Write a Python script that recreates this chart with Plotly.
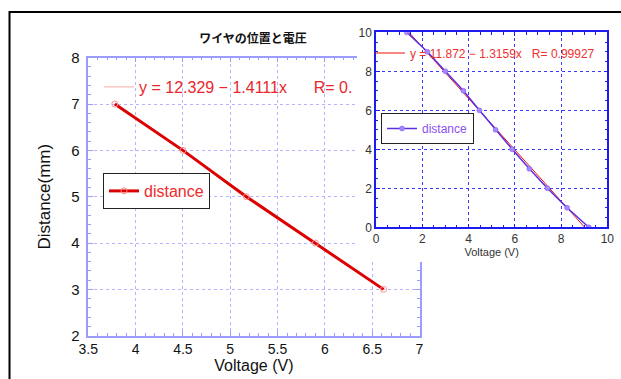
import plotly.graph_objects as go

# ---------------- data ----------------
main_voltage = [3.78, 4.50, 5.17, 5.90, 6.62]
main_distance = [7, 6, 5, 4, 3]
main_fit_intercept = 12.329
main_fit_slope = -1.4111
main_fit_label = "y = 12.329 − 1.4111x\u00a0\u00a0\u00a0\u00a0\u00a0\u00a0R= 0."

inset_voltage = [1.33, 2.22, 3.00, 3.78, 4.47, 5.17, 5.89, 6.63, 7.41, 8.26, 9.20]
inset_distance = [10, 9, 8, 7, 6, 5, 4, 3, 2, 1, 0]
inset_fit_intercept = 11.872
inset_fit_slope = -1.3159
inset_fit_label = "y = 11.872 − 1.3159x\u00a0\u00a0\u00a0R= 0.99927"

main_xticks = [3.5, 4, 4.5, 5, 5.5, 6, 6.5, 7]
main_xticktext = ["3.5", "4", "4.5", "5", "5.5", "6", "6.5", "7"]
main_yticks = [2, 3, 4, 5, 6, 7, 8]
inset_ticks = [0, 2, 4, 6, 8, 10]

title_text = "ワイヤの位置と電圧"
series_name = "distance"

# ---------------- layout helpers ----------------
W, H = 621, 379
def px(x):
    return x / W
def py(y):
    return 1 - y / H

FONT = "Liberation Sans, Arial, sans-serif"
CJK = "Noto Sans CJK JP, sans-serif"

main_fit_x = [min(main_voltage), max(main_voltage)]
main_fit_y = [main_fit_intercept + main_fit_slope * v for v in main_fit_x]
inset_fit_x = [min(inset_voltage), max(inset_voltage)]
inset_fit_y = [inset_fit_intercept + inset_fit_slope * v for v in inset_fit_x]

fig = go.Figure()

# main chart
fig.add_trace(go.Scatter(x=main_fit_x, y=main_fit_y, mode="lines",
                         line=dict(color="#ffa8a8", width=1),
                         name=main_fit_label, legend="legend",
                         xaxis="x", yaxis="y"))
fig.add_trace(go.Scatter(x=main_voltage, y=main_distance, mode="lines+markers",
                         line=dict(color="#dd0000", width=3),
                         marker=dict(symbol="circle-open", size=6, color="#ff8c8c",
                                     line=dict(width=1, color="#ff8c8c")),
                         name=series_name, legend="legend2",
                         xaxis="x", yaxis="y"))
# white cover subplot (the inset image's background)
fig.add_trace(go.Scatter(x=[], y=[], xaxis="x2", yaxis="y2", showlegend=False))
# inset chart
fig.add_trace(go.Scatter(x=inset_fit_x, y=inset_fit_y, mode="lines",
                         line=dict(color="#ee1111", width=1),
                         name=inset_fit_label, legend="legend3",
                         xaxis="x3", yaxis="y3"))
fig.add_trace(go.Scatter(x=inset_voltage, y=inset_distance, mode="lines+markers",
                         line=dict(color="#5a2ee0", width=1.5),
                         marker=dict(symbol="circle", size=5, color="#a58aff",
                                     line=dict(width=0.5, color="#7a50f0")),
                         name=series_name, legend="legend4",
                         xaxis="x3", yaxis="y3"))

main_axis_color = "#9c9cff"
main_grid_color = "#b4b4ff"
inset_axis_color = "#1c1cf0"
inset_grid_color = "#3a3aff"

fig.update_layout(
    width=W, height=H,
    margin=dict(l=0, r=0, t=0, b=0, autoexpand=False),
    paper_bgcolor="white", plot_bgcolor="white",
    title=dict(text=title_text, x=px(253), y=py(39), xanchor="center", yanchor="middle",
               xref="paper", yref="paper", automargin=False,
               font=dict(family=CJK, size=12, color="#111", weight="bold")),
    xaxis=dict(domain=[px(88.3), px(419.5)], range=[3.5, 7], anchor="y", automargin=False,
               tickvals=main_xticks, ticktext=main_xticktext,
               showline=True, linecolor=main_axis_color, linewidth=1.5, mirror="ticks",
               ticks="inside", ticklen=5, tickcolor=main_axis_color, tickwidth=1,
               minor=dict(dtick=0.1, ticks="inside", ticklen=3, tickcolor=main_axis_color,
                          showgrid=False),
               showgrid=True, gridcolor=main_grid_color, griddash="dot", gridwidth=1,
               zeroline=False, tickfont=dict(family=FONT, size=14, color="#111"),
               title=dict(text="Voltage (V)", font=dict(family=FONT, size=16, color="#111"),
                          standoff=4)),
    yaxis=dict(domain=[py(335.7), py(57.7)], range=[2, 8], anchor="x", automargin=False,
               tickvals=main_yticks,
               showline=True, linecolor=main_axis_color, linewidth=1.5, mirror="ticks",
               ticks="inside", ticklen=5, tickcolor=main_axis_color, tickwidth=1,
               minor=dict(dtick=0.2, ticks="inside", ticklen=3, tickcolor=main_axis_color,
                          showgrid=False),
               showgrid=True, gridcolor=main_grid_color, griddash="dot", gridwidth=1,
               zeroline=False, tickfont=dict(family=FONT, size=15, color="#111"),
               ticklabelstandoff=4,
               title=dict(text="Distance(mm)", font=dict(family=FONT, size=17, color="#111"),
                          standoff=16)),
    xaxis2=dict(domain=[px(357), 1], range=[0, 1], anchor="y2", visible=False, automargin=False),
    yaxis2=dict(domain=[py(262), py(14)], range=[0, 1], anchor="x2", visible=False, automargin=False),
    xaxis3=dict(domain=[px(376), px(607.3)], range=[0, 10], anchor="y3", automargin=False,
                tickvals=inset_ticks,
                showline=True, linecolor=inset_axis_color, linewidth=1.5, mirror="ticks",
                ticks="inside", ticklen=4, tickcolor=inset_axis_color,
                minor=dict(dtick=0.5, ticks="inside", ticklen=2.5, tickcolor=inset_axis_color,
                           showgrid=False),
                showgrid=True, gridcolor=inset_grid_color, griddash="dot", gridwidth=1,
                zeroline=False, tickfont=dict(family=FONT, size=12, color="#333"),
                title=dict(text="Voltage (V)", font=dict(family=FONT, size=11, color="#333"),
                           standoff=1)),
    yaxis3=dict(domain=[py(227.3), py(32.3)], range=[0, 10], anchor="x3", automargin=False,
                tickvals=inset_ticks,
                showline=True, linecolor=inset_axis_color, linewidth=1.5, mirror="ticks",
                ticks="inside", ticklen=4, tickcolor=inset_axis_color,
                minor=dict(dtick=0.5, ticks="inside", ticklen=2.5, tickcolor=inset_axis_color,
                           showgrid=False),
                showgrid=True, gridcolor=inset_grid_color, griddash="dot", gridwidth=1,
                zeroline=False, tickfont=dict(family=FONT, size=12, color="#333")),
    legend=dict(x=px(99), y=py(87), xanchor="left", yanchor="middle",
                bgcolor="rgba(0,0,0,0)", borderwidth=0,
                font=dict(family=FONT, size=16, color="#e8262c")),
    legend2=dict(x=px(103), y=py(173), xanchor="left", yanchor="top",
                 bgcolor="white", bordercolor="#222", borderwidth=1,
                 font=dict(family=FONT, size=16, color="#ee2a2a")),
    legend3=dict(x=px(370), y=py(53), xanchor="left", yanchor="middle",
                 bgcolor="rgba(0,0,0,0)", borderwidth=0,
                 font=dict(family=FONT, size=12, color="#ee3030")),
    legend4=dict(x=px(381), y=py(113), xanchor="left", yanchor="top",
                 bgcolor="white", bordercolor="#222", borderwidth=1,
                 font=dict(family=FONT, size=12, color="#8c50ee")),
    showlegend=True,
)

# outer black frame (top and left edges)
fig.add_shape(type="line", xref="paper", yref="paper",
              x0=px(9), y0=py(12), x1=1, y1=py(12),
              line=dict(color="black", width=2), layer="above")
fig.add_shape(type="line", xref="paper", yref="paper",
              x0=px(9.5), y0=py(11), x1=px(9.5), y1=0,
              line=dict(color="black", width=2), layer="above")

fig.write_html("out.html")
